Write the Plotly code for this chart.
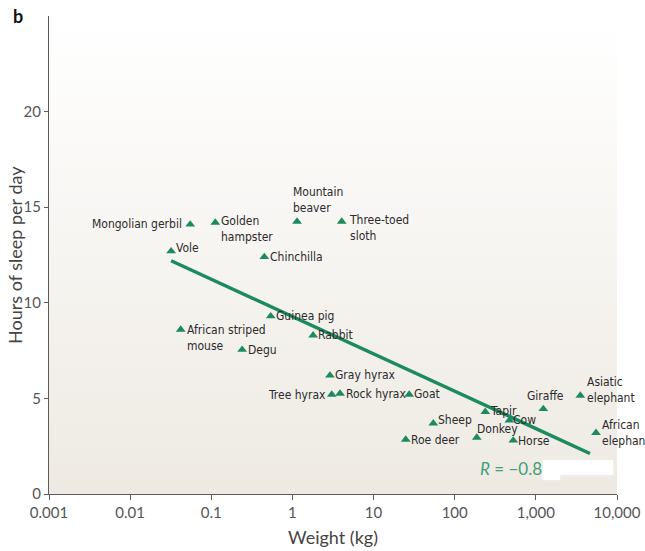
import math
import plotly.graph_objects as go

# Body weight (kg) against daily sleep (hours) for 23 mammals
species = [
    "Mongolian gerbil", "Vole", "Golden<br>hampster", "Mountain<br>beaver",
    "Three-toed<br>sloth", "Chinchilla", "Guinea pig", "African striped<br>mouse",
    "Degu", "Rabbit", "Gray hyrax", "Tree hyrax", "Rock hyrax", "Goat",
    "Sheep", "Roe deer", "Tapir", "Donkey", "Cow", "Horse", "Giraffe",
    "Asiatic<br>elephant", "African<br>elephant",
]
weight_kg = [
    0.055, 0.032, 0.112, 1.14,
    4.05, 0.45, 0.54, 0.042,
    0.24, 1.8, 2.9, 3.05, 3.86, 27.5,
    54.5, 24.9, 238, 187, 471, 527, 1236,
    3530, 5510,
]
sleep_h = [
    14.1, 12.7, 14.2, 14.25,
    14.25, 12.4, 9.3, 8.6,
    7.55, 8.3, 6.2, 5.2, 5.25, 5.2,
    3.7, 2.85, 4.3, 2.95, 3.85, 2.8, 4.45,
    5.15, 3.2,
]

# Least-squares fit: hours = intercept + slope * log10(weight)
fit_intercept = 9.28
fit_slope = -1.953
fit_weights = [0.032, 4640]
fit_label = "<i>R</i> = \u22120.8"

x_ticks = [0.001, 0.01, 0.1, 1, 10, 100, 1000, 10000]
x_ticktext = ["0.001", "0.01", "0.1", "1", "10", "100", "1,000", "10,000"]
y_ticks = [0, 5, 10, 15, 20]
x_title = "Weight (kg)"
y_title = "Hours of sleep per day"

# Label placement around each marker: (xanchor, yanchor, xshift, yshift)
label_place = {
    "Mongolian gerbil": ("right", "middle", -6, 0),
    "Vole": ("left", "middle", 3, 3),
    "Golden<br>hampster": ("left", "top", 4, 11),
    "Mountain<br>beaver": ("left", "bottom", -6, 5),
    "Three-toed<br>sloth": ("left", "top", 5, 11),
    "Chinchilla": ("left", "middle", 4, 0),
    "Guinea pig": ("left", "middle", 3, 0),
    "African striped<br>mouse": ("left", "top", 4, 9),
    "Degu": ("left", "middle", 4, 0),
    "Rabbit": ("left", "middle", 3, 0),
    "Gray hyrax": ("left", "middle", 3, 0),
    "Tree hyrax": ("right", "middle", -4, 0),
    "Rock hyrax": ("left", "middle", 4, 0),
    "Goat": ("left", "middle", 3, 1),
    "Sheep": ("left", "middle", 3, 3),
    "Roe deer": ("left", "middle", 3, 0),
    "Tapir": ("left", "middle", 3, 1),
    "Donkey": ("left", "bottom", -2, 0),
    "Cow": ("left", "middle", 2, 0),
    "Horse": ("left", "middle", 3, -1),
    "Giraffe": ("center", "bottom", 2, 4),
    "Asiatic<br>elephant": ("left", "middle", 5, 6),
    "African<br>elephant": ("left", "middle", 4, 0),
}

GREEN = "#1b8a5e"
AXIS = "#5a5a5a"
TEXT = "#2b2b2b"
LABEL_FONT = "DejaVu Sans Condensed, Roboto, sans-serif"
TICK_FONT = "Lato"

fig = go.Figure()

fig.add_trace(go.Scatter(
    x=weight_kg, y=sleep_h, mode="markers",
    marker=dict(symbol="triangle-up", size=8.5, color=GREEN, line=dict(width=0)),
    hoverinfo="skip", showlegend=False,
))

fit_hours = [fit_intercept + fit_slope * math.log10(w) for w in fit_weights]
fig.add_trace(go.Scatter(
    x=fit_weights, y=fit_hours, mode="lines",
    line=dict(color=GREEN, width=3.5),
    hoverinfo="skip", showlegend=False,
))

annotations = []
for name, w, h in zip(species, weight_kg, sleep_h):
    xa, ya, dx, dy = label_place[name]
    annotations.append(dict(
        x=math.log10(w), y=h, xref="x", yref="y", text=name,
        showarrow=False, xanchor=xa, yanchor=ya, xshift=dx, yshift=dy,
        align="left" if xa != "right" else "right",
        font=dict(family=LABEL_FONT, size=12, color=TEXT),
    ))

annotations.append(dict(
    x=0.755, y=0.054, xref="x domain", yref="y domain", text=fit_label,
    showarrow=False, xanchor="left", yanchor="middle",
    font=dict(family=TICK_FONT, size=17, color="#3f9f78"),
))
annotations.append(dict(
    x=-0.067, y=1.0, xref="paper", yref="paper", text="<b>b</b>",
    showarrow=False, xanchor="left", yanchor="middle",
    font=dict(family=TICK_FONT, size=18, color="#111111"),
))
# Vertical axis title
annotations.append(dict(
    x=-0.06, y=0.5, xref="paper", yref="paper", text=y_title,
    showarrow=False, xanchor="center", yanchor="middle", textangle=-90,
    font=dict(family=TICK_FONT, size=18, color="#444444"),
))

# Soft vertical gradient behind the data: white at the top, beige at the bottom
shapes = []
n_bands = 60
top_rgb = (255, 255, 255)
bot_rgb = (238, 234, 227)
for i in range(n_bands):
    t = i / (n_bands - 1)
    r, g, b = (round(bot_rgb[k] + (top_rgb[k] - bot_rgb[k]) * t) for k in range(3))
    shapes.append(dict(
        type="rect", xref="x domain", yref="y domain",
        x0=0, x1=1, y0=i / n_bands, y1=(i + 1) / n_bands + 0.002,
        fillcolor=f"rgb({r},{g},{b})", line=dict(width=0), layer="below",
    ))

# White patch beside the R value
shapes.append(dict(type="rect", xref="x domain", yref="y domain",
                   x0=0.869, x1=0.9935, y0=0.0397, y1=0.0711,
                   fillcolor="white", line=dict(width=0), layer="above"))
shapes.append(dict(type="rect", xref="x domain", yref="y domain",
                   x0=0.869, x1=0.9, y0=0.029, y1=0.0405,
                   fillcolor="white", line=dict(width=0), layer="above"))

fig.update_layout(
    width=645, height=551,
    margin=dict(l=49, r=28, t=16, b=57, autoexpand=False),
    paper_bgcolor="white", plot_bgcolor="white",
    showlegend=False,
    annotations=annotations,
    shapes=shapes,
    xaxis=dict(
        type="log", range=[-3, 4], automargin=False,
        tickvals=x_ticks, ticktext=x_ticktext,
        showgrid=False, zeroline=False,
        showline=True, linecolor=AXIS, linewidth=1,
        ticks="outside", ticklen=5, tickcolor=AXIS, tickwidth=1,
        tickfont=dict(family=TICK_FONT, size=15, color="#555555"),
        title=dict(text=x_title, standoff=11,
                   font=dict(family=TICK_FONT, size=18, color="#444444")),
    ),
    yaxis=dict(
        range=[0, 25], tickvals=y_ticks, automargin=False,
        showgrid=False, zeroline=False,
        showline=True, linecolor=AXIS, linewidth=1,
        ticks="outside", ticklen=4, tickcolor=AXIS, tickwidth=1,
        tickfont=dict(family=TICK_FONT, size=15, color="#555555"),
    ),
)

fig.write_html("out.html")
